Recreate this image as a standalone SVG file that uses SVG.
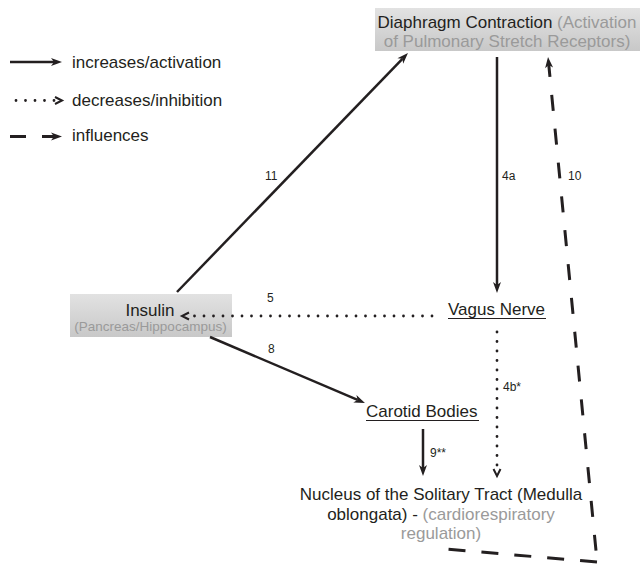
<svg xmlns="http://www.w3.org/2000/svg" width="640" height="566" viewBox="0 0 640 566">
<style>
text{font-family:"Liberation Sans",Arial,sans-serif;fill:#231f20}
.t{font-size:17px}
.s{font-size:13.5px;fill:#9a9a9a}
.g{fill:#9a9a9a}
.l{font-size:12px}
.solid{stroke:#231f20;stroke-width:2.5;fill:none;marker-end:url(#ah)}
.dot{stroke:#231f20;stroke-width:2.8;fill:none;stroke-dasharray:0 9.5;stroke-linecap:round;marker-end:url(#ch)}
.dash{stroke:#231f20;stroke-width:3;fill:none}
.ul{stroke:#231f20;stroke-width:1.2}
</style>
<defs>
<linearGradient id="box" x1="0" y1="0" x2="0" y2="1">
<stop offset="0" stop-color="#e2e2e2"/>
<stop offset="1" stop-color="#c8c8c8"/>
</linearGradient>
<marker id="ah" markerUnits="userSpaceOnUse" markerWidth="12" markerHeight="9" refX="3" refY="4" orient="auto" overflow="visible">
<path d="M0,0 L11,4 L0,8 L3,4 z" fill="#231f20"/>
</marker>
<marker id="ahs" markerUnits="userSpaceOnUse" markerWidth="12" markerHeight="9" refX="3" refY="4" orient="auto-start-reverse" overflow="visible">
<path d="M0,0 L11,4 L0,8 L3,4 z" fill="#231f20"/>
</marker>
<marker id="ch" markerUnits="userSpaceOnUse" markerWidth="9" markerHeight="9" refX="0" refY="4" orient="auto" overflow="visible">
<path d="M0,0.5 L7,4 L0,7.5" fill="none" stroke="#231f20" stroke-width="2"/>
</marker>
</defs>

<g id="legend">
<line class="solid" x1="10" y1="62" x2="54" y2="62"/>
<text class="t" x="72" y="68">increases/activation</text>
<line class="dot" x1="16" y1="100.5" x2="55" y2="100.5"/>
<text class="t" x="72" y="106">decreases/inhibition</text>
<line class="dash" x1="10" y1="136.5" x2="54" y2="136.5" style="stroke-dasharray:16 16;marker-end:url(#ah)"/>
<text class="t" x="72" y="141">influences</text>
</g>

<g id="diaphragm">
<rect x="375" y="8" width="265" height="43" fill="url(#box)"/>
<text class="t" x="507" y="28" text-anchor="middle">Diaphragm Contraction <tspan class="g">(Activation</tspan></text>
<text class="t g" x="507" y="47" text-anchor="middle">of Pulmonary Stretch Receptors)</text>
</g>

<g id="insulin">
<rect x="70" y="294" width="162" height="43" fill="url(#box)"/>
<text class="t" x="150" y="316" text-anchor="middle">Insulin</text>
<text class="s" x="150.5" y="331" text-anchor="middle">(Pancreas/Hippocampus)</text>
</g>

<g id="vagus">
<text class="t" x="448" y="315">Vagus Nerve</text>
<line class="ul" x1="448" y1="318.5" x2="546" y2="318.5"/>
</g>

<g id="carotid">
<text class="t" x="366" y="417">Carotid Bodies</text>
<line class="ul" x1="366" y1="420.5" x2="479" y2="420.5"/>
</g>

<g id="nts">
<text class="t" x="441" y="500" text-anchor="middle">Nucleus of the Solitary Tract (Medulla</text>
<text class="t" x="441" y="520" text-anchor="middle">oblongata) - <tspan class="g">(cardiorespiratory</tspan></text>
<text class="t g" x="441" y="539" text-anchor="middle">regulation)</text>
</g>

<g id="connectors">
<line id="c11" class="solid" x1="177" y1="292" x2="402.4" y2="58.8"/>
<line id="c4a" class="solid" x1="497" y1="57" x2="497" y2="285"/>
<line id="c5" class="dot" x1="432" y1="316" x2="189" y2="316"/>
<line id="c8" class="solid" x1="210" y1="337" x2="357.6" y2="399.9"/>
<line id="c4b" class="dot" x1="497" y1="332" x2="497" y2="469"/>
<line id="c9" class="solid" x1="423" y1="429" x2="423" y2="468"/>
<path id="c10" class="dash" d="M548.8,65 L597,561" style="stroke-dasharray:16 18;stroke-dashoffset:4;marker-start:url(#ahs)"/>
<path id="c10b" class="dash" d="M597,562 L445,549" style="stroke-dasharray:17 16"/>
<text class="l" x="265" y="180">11</text>
<text class="l" x="502" y="180">4a</text>
<text class="l" x="568" y="180">10</text>
<text class="l" x="267" y="302">5</text>
<text class="l" x="268" y="353">8</text>
<text class="l" x="503" y="391">4b*</text>
<text class="l" x="430" y="457">9**</text>
</g>
</svg>
